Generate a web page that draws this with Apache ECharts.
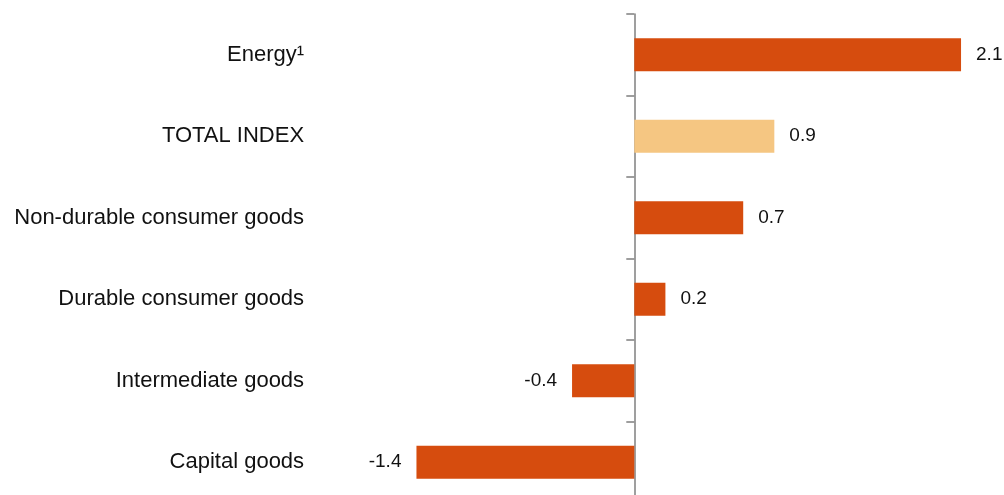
<!DOCTYPE html>
<html>
<head>
<meta charset="utf-8">
<script src="https://cdn.jsdelivr.net/npm/echarts@6/dist/echarts.min.js"></script>
<style>
html,body{margin:0;padding:0;background:#fff;}
#chart{width:1004px;height:495px;}
</style>
</head>
<body>
<div id="chart"></div>
<script>
var categories = ['Energy¹', 'TOTAL INDEX', 'Non-durable consumer goods', 'Durable consumer goods', 'Intermediate goods', 'Capital goods'];
var values = [2.1, 0.9, 0.7, 0.2, -0.4, -1.4];
var highlightCategory = 'TOTAL INDEX';

var chart = echarts.init(document.getElementById('chart'));
var data = values.map(function (v, i) {
  return {
    value: v,
    itemStyle: { color: categories[i] === highlightCategory ? '#F5C682' : '#D64C0E' },
    label: { position: v < 0 ? 'left' : 'right' }
  };
});
chart.setOption({
  animation: false,
  backgroundColor: '#ffffff',
  grid: { left: 323.1, width: 653.5, top: 14, height: 489, containLabel: false, outerBoundsMode: 'none' },
  xAxis: {
    type: 'value',
    min: -2,
    max: 2.2,
    show: false
  },
  yAxis: {
    type: 'category',
    inverse: true,
    data: categories,
    axisLine: { show: true, onZero: true, lineStyle: { color: '#7f7f7f', width: 1.5 } },
    axisTick: { show: true, length: 8, lineStyle: { color: '#7f7f7f', width: 1.5 } },
    axisLabel: {
      margin: 19,
      fontFamily: 'Liberation Sans, Arial, sans-serif',
      fontSize: 22,
      color: '#111111'
    },
    splitLine: { show: false }
  },
  series: [{
    type: 'bar',
    data: data,
    barWidth: 33,
    label: {
      show: true,
      distance: 15,
      fontFamily: 'Liberation Sans, Arial, sans-serif',
      fontSize: 19,
      color: '#111111'
    }
  }]
});
</script>
</body>
</html>
